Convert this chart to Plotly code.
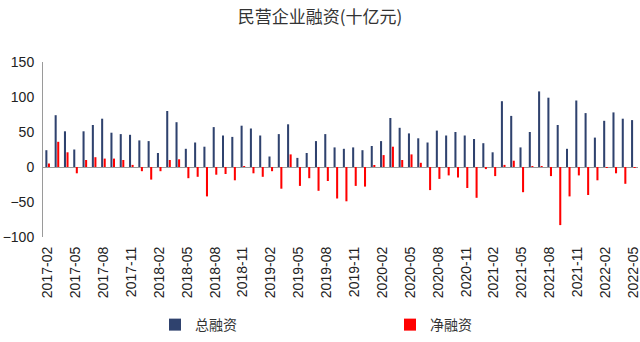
import plotly.graph_objects as go
import pandas as pd

months = [p.strftime("%Y-%m") for p in pd.period_range("2017-02", "2022-05", freq="M")]

total_financing = [24, 74, 51, 25, 51, 60, 69, 49, 47, 46, 38, 37,
                   20, 80, 64, 26, 35, 29, 57, 45, 43, 59, 55, 45,
                   15, 47, 61, 13, 20, 37, 47, 28, 26, 28, 24, 30,
                   37, 70, 56, 48, 41, 35, 52, 45, 50, 45, 40, 34,
                   21, 94, 73, 28, 50, 108, 99, 60, 26, 95, 77, 42,
                   66, 78, 69, 67]
net_financing = [5, 36, 21, -9, 10, 14, 12, 12, 10, 3, -6, -18,
                 -6, 10, 11, -16, -14, -42, -11, -10, -19, 0.5, -9, -14,
                 -6, -31, 18, -27, -16, -34, -20, -45, -49, -27, -28, 2,
                 17, 29, 10, 18, 6, -33, -17, -12, -15, -30, -44, -3,
                 -13, 3, 9, -36, 1, 1, -13, -83, -42, -12, -40, -19,
                 -0.5, -9, -24, -1]

tick_labels = months[::3]

BLUE = "#2F426E"
RED = "#FF0000"

fig = go.Figure()
fig.add_trace(go.Bar(x=months, y=total_financing, name="总融资",
                     marker=dict(color=BLUE, line=dict(width=0))))
fig.add_trace(go.Bar(x=months, y=net_financing, name="净融资",
                     marker=dict(color=RED, line=dict(width=0))))

fig.update_layout(
    width=640, height=342,
    margin=dict(l=43, r=2, t=62, b=105, autoexpand=False),
    paper_bgcolor="white", plot_bgcolor="white",
    barmode="group", bargap=0.45, bargroupgap=0.2,
    title=dict(text="民营企业融资(十亿元)", x=0.5, xanchor="center",
               y=1 - 17.5 / 342, yanchor="middle",
               font=dict(family="Noto Sans CJK SC", size=17, color="#333333")),
    font=dict(family="Liberation Sans, Arial", size=14, color="#222222"),
    showlegend=True,
    legend=dict(orientation="h", x=(155 - 43) / 595, xanchor="left",
                y=-0.503, yanchor="middle",
                entrywidth=190, entrywidthmode="pixels",
                itemwidth=30, tracegroupgap=0,
                font=dict(family="Noto Sans CJK SC", size=14, color="#333333")),
    xaxis=dict(type="category", tickmode="array", tickvals=tick_labels,
               ticktext=tick_labels, tickangle=-90, showgrid=False,
               showline=False, ticks="", ticklen=0, automargin=False,
               ticklabelstandoff=6,
               tickfont=dict(family="Liberation Sans, Arial", size=14, color="#222222")),
    yaxis=dict(range=[-100, 150], dtick=50, tickmode="linear", tick0=0,
               showgrid=False, showline=True, linecolor="#9A9A9A", linewidth=1,
               zeroline=True, zerolinecolor="#9A9A9A", zerolinewidth=1,
               ticks="", automargin=False, ticklabelstandoff=5,
               tickfont=dict(family="Liberation Sans, Arial", size=14, color="#222222")),
)

fig.write_html("out.html")
